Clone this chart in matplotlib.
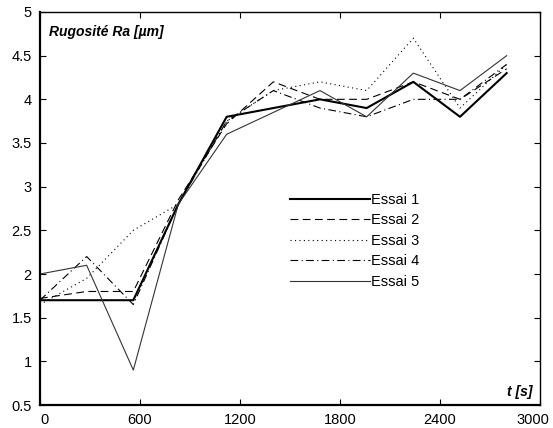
import matplotlib
matplotlib.use('Agg')
from matplotlib import pyplot as plt
from matplotlib.transforms import ScaledTranslation

plt.rcParams['font.family'] = ['Liberation Sans', 'DejaVu Sans']

# temps [s]
t = [0, 280, 560, 830, 1120, 1400, 1680, 1960, 2240, 2520, 2800]

essai1 = [1.7, 1.7, 1.7, 2.8, 3.8, 3.9, 4.0, 3.9, 4.2, 3.8, 4.3]
essai2 = [1.72, 1.8, 1.8, 2.85, 3.72, 4.2, 4.0, 4.0, 4.2, 4.0, 4.35]
essai3 = [1.65, 1.95, 2.5, 2.8, 3.75, 4.1, 4.2, 4.1, 4.7, 3.9, 4.4]
essai4 = [1.7, 2.2, 1.65, 2.8, 3.75, 4.1, 3.9, 3.8, 4.0, 4.0, 4.4]
essai5 = [2.0, 2.1, 0.9, 2.8, 3.6, 3.85, 4.1, 3.8, 4.3, 4.1, 4.5]

labels = ['Essai 1', 'Essai 2', 'Essai 3', 'Essai 4', 'Essai 5']
xticks = [0, 600, 1200, 1800, 2400, 3000]
yticks = [0.5, 1, 1.5, 2, 2.5, 3, 3.5, 4, 4.5, 5]

fig = plt.figure(figsize=(5.53, 4.28), dpi=100)
ax = fig.add_axes([0.0723, 0.0537, 0.9042, 0.9183])

ax.plot(t, essai1, color='black', lw=1.5, ls='-', label=labels[0])
ax.plot(t, essai2, color='black', lw=0.8, ls=(0, (7, 4)), label=labels[1])
ax.plot(t, essai3, color='black', lw=0.8, ls=(0, (1, 3)), label=labels[2])
ax.plot(t, essai4, color='black', lw=0.8, ls=(0, (7, 3, 1, 3)), label=labels[3])
ax.plot(t, essai5, color='#333333', lw=0.8, ls='-', label=labels[4])

ax.set_xlim(0, 3000)
ax.set_ylim(0.5, 5)
ax.set_xticks(xticks)
ax.set_xticklabels([str(v) for v in xticks])
ax.set_yticks(yticks)
ax.set_yticklabels(['{:g}'.format(v) for v in yticks])
ax.tick_params(direction='in', length=4, width=0.8, top=True, right=True,
               labelsize=10.5, pad=6)
for side in ['left', 'bottom']:
    ax.spines[side].set_linewidth(1.6)
for side in ['top', 'right']:
    ax.spines[side].set_linewidth(1.0)

# first and last x labels kept inside like the original
xl = ax.get_xticklabels()
xl[0].set_transform(xl[0].get_transform() + ScaledTranslation(5 / 100, 0, fig.dpi_scale_trans))
xl[-1].set_transform(xl[-1].get_transform() + ScaledTranslation(-7 / 100, 0, fig.dpi_scale_trans))

ax.text(0.018, 0.948, 'Rugosité Ra [µm]', transform=ax.transAxes,
        fontsize=10, fontweight='bold', fontstyle='italic', va='center')
ax.text(0.985, 0.033, 't [s]', transform=ax.transAxes, ha='right',
        fontsize=10, fontweight='bold', fontstyle='italic', va='center')

leg = ax.legend(loc='upper left', bbox_to_anchor=(0.488, 0.555), frameon=False,
                fontsize=10.5, handlelength=5.5, handletextpad=0.1,
                labelspacing=0.45, borderaxespad=0)

fig.savefig('out.png', dpi=100)
